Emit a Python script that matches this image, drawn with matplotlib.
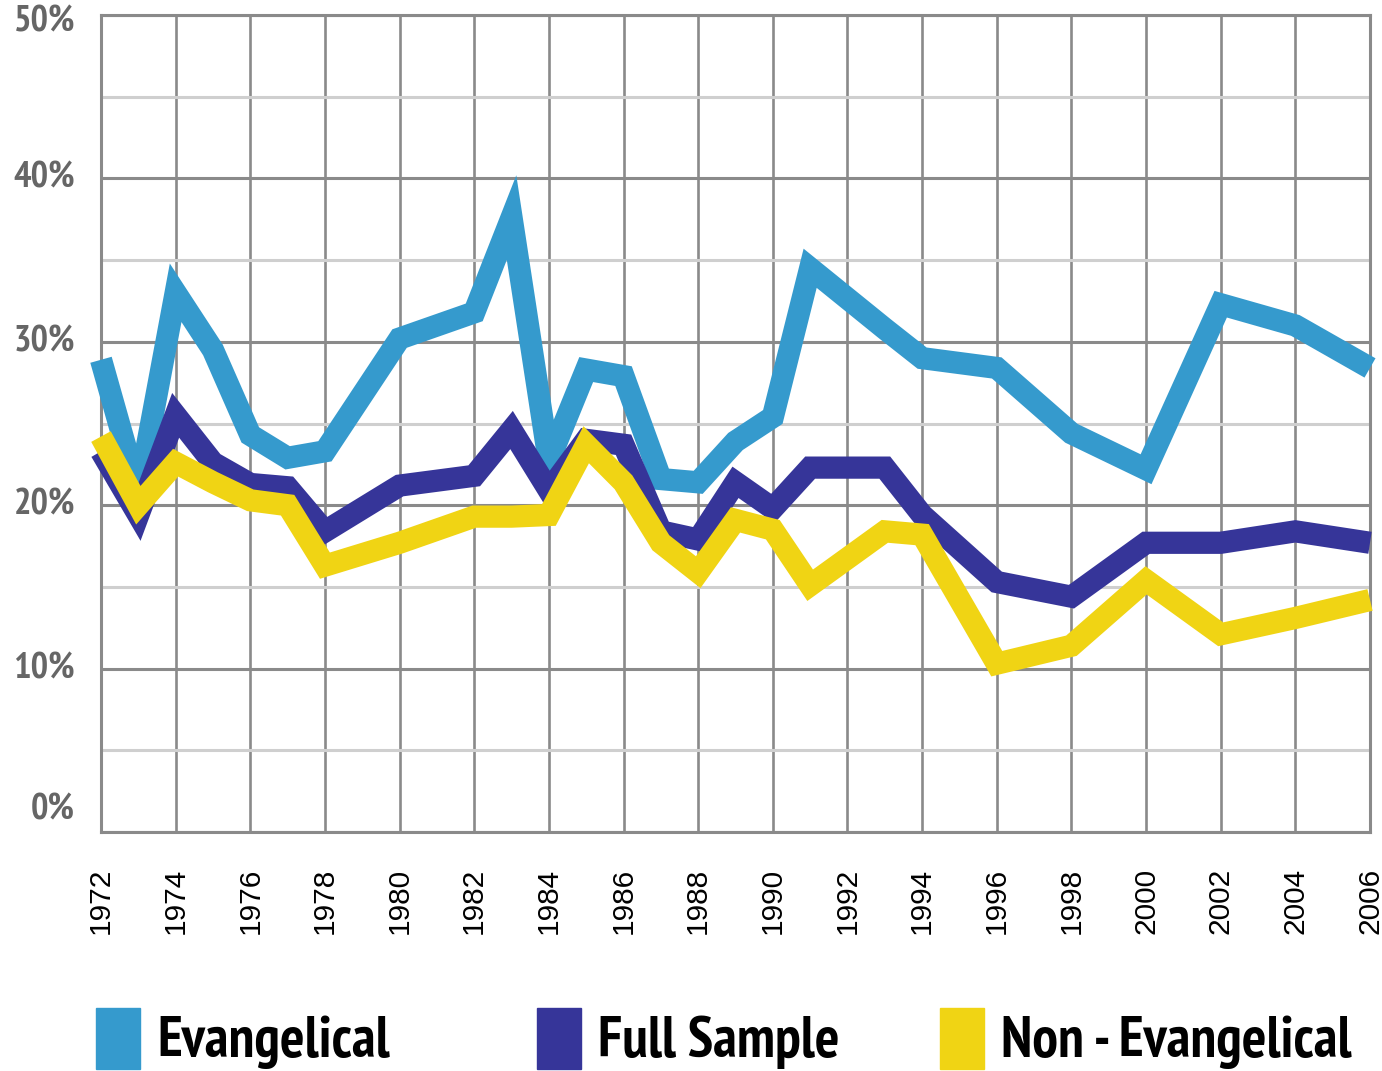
import matplotlib
matplotlib.use('Agg')
import matplotlib.pyplot as plt
from matplotlib.patches import Rectangle
from matplotlib.ticker import MultipleLocator
import matplotlib.transforms as mtransforms

# GSS survey years and share (%) per group
years = [1972, 1973, 1974, 1975, 1976, 1977, 1978, 1980, 1982, 1983, 1984,
         1985, 1986, 1987, 1988, 1989, 1990, 1991, 1993, 1994, 1996, 1998,
         2000, 2002, 2004, 2006]
evangelical = [28.9, 20.8, 33.0, 29.5, 24.3, 22.9, 23.3, 30.2, 31.8, 37.6, 22.7,
               28.3, 27.9, 21.6, 21.4, 23.9, 25.4, 34.5, 30.8, 29.0, 28.4, 24.4,
               22.2, 32.3, 31.0, 28.4]
full_sample = [23.3, 19.4, 25.5, 22.6, 21.3, 21.1, 18.4, 21.2, 21.8, 24.6, 20.9,
               24.0, 23.7, 18.4, 17.9, 21.4, 19.8, 22.3, 22.3, 19.4, 15.3, 14.4,
               17.7, 17.7, 18.4, 17.7]
non_evangelical = [24.2, 20.0, 22.6, 21.4, 20.3, 20.0, 16.3, 17.7, 19.3, 19.3, 19.4,
                   23.7, 21.4, 17.7, 15.9, 19.1, 18.5, 15.1, 18.4, 18.2, 10.3, 11.4,
                   15.4, 12.1, 13.1, 14.2]
y_ticks = [0, 10, 20, 30, 40, 50]

labels = ['Evangelical', 'Full Sample', 'Non - Evangelical']
colors = ['#359acd', '#363599', '#f0d414']
series = [evangelical, full_sample, non_evangelical]

narrow = ['PT Sans Narrow', 'DejaVu Sans']
W, H = 1382, 1071
fig = plt.figure(figsize=(W / 100, H / 100), dpi=100)
ax = fig.add_axes([101 / W, 1 - 832 / H, (1370 - 101) / W, (832 - 15) / H])

ax.set_xlim(1972, 2006)
ax.set_ylim(0, 50)

# grid
ax.xaxis.set_major_locator(MultipleLocator(2))
ax.set_yticks(y_ticks)
ax.yaxis.set_minor_locator(MultipleLocator(5))
ax.grid(which='major', axis='x', color='#8a8a8a', lw=1.9)
ax.grid(which='major', axis='y', color='#8a8a8a', lw=2.2)
ax.grid(which='minor', axis='y', color='#cfcfcf', lw=2.2)
ax.set_axisbelow(True)
for s in ax.spines.values():
    s.set_color('#8a8a8a')
    s.set_linewidth(2.2)

for vals, c, lab in zip(series, colors, labels):
    ax.plot(years, vals, color=c, lw=16, solid_joinstyle='miter',
            solid_capstyle='butt', clip_on=False, label=lab, zorder=3)

ax.tick_params(which='both', length=0)
ax.tick_params(axis='y', labelleft=False)

# y labels: the end ones sit pulled inward like in the original
trans = mtransforms.blended_transform_factory(ax.transAxes, ax.transData)
for v in y_ticks:
    dy = 0.0
    if v == y_ticks[0]:
        dy = 0.22
    elif v == y_ticks[-1]:
        dy = -0.07
    off = mtransforms.ScaledTranslation(-0.26, dy, fig.dpi_scale_trans)
    ax.text(0, v, '%d%%' % v, transform=trans + off, ha='right', va='center',
            family=narrow, fontweight='bold', fontsize=26.5, color='#666666')

ax.tick_params(axis='x', pad=26)
for t in ax.get_xticklabels():
    t.set_rotation(90)
    t.set_fontsize(21.5)
    t.set_fontfamily(['Liberation Sans', 'DejaVu Sans'])
    t.set_color('black')

# legend: colored blocks with big condensed labels
leg_x = [96, 537, 940]
for x0, c, lab in zip(leg_x, colors, labels):
    fig.patches.append(Rectangle((x0 / W, 1 - 1069 / H), 44 / W, 61 / H,
                                 transform=fig.transFigure, color=c))
    fig.text((x0 + 61) / W, 1 - 1057 / H, lab, fontsize=41.5, fontweight='bold',
             family=narrow, va='baseline', ha='left', color='black')

fig.savefig('out.png', dpi=100)
